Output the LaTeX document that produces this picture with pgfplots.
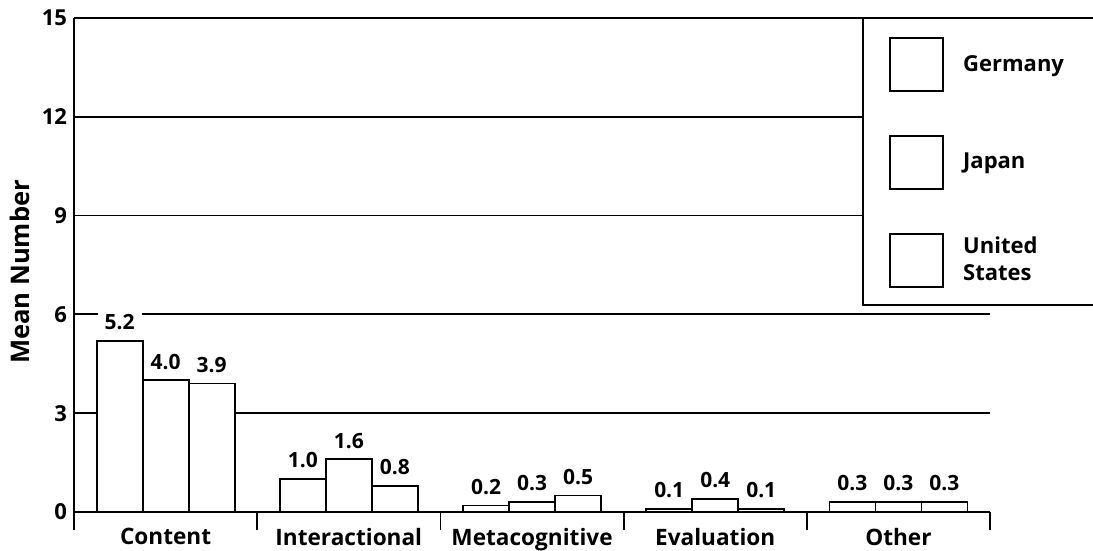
\documentclass[border=0pt]{standalone}
\usepackage{fontspec}
\setmainfont{Open Sans}
\usepackage{pgfplots}
\pgfplotsset{compat=1.18}
\begin{document}
\begin{tikzpicture}
\begin{axis}[
  name=ax,
  scale only axis, width=458pt, height=247pt,
  xmin=-0.5, xmax=4.5, ymin=0, ymax=15,
  clip=false,
  /pgf/number format/assume math mode=true,
  ytick={0,3,6,9,12,15},
  xtick={0,1,2,3,4},
  xticklabels={Content,Interactional,Metacognitive,Evaluation,Other},
  minor xtick={-0.5,0.5,1.5,2.5,3.5,4.5},
  major tick length=0pt, minor tick length=9pt, tick align=center,
  axis x line=bottom, axis y line=left,
  axis line style={-, line width=1pt, black},
  every tick/.style={black, line width=0.9pt},
  ymajorgrids, major grid style={black, line width=0.9pt},
  xticklabel style={font=\bfseries\fontsize{11.3}{14}\selectfont, yshift=-4.5pt},
  yticklabel style={font=\bfseries\fontsize{11}{13}\selectfont},
  ylabel={Mean Number},
  ylabel style={at={(rel axis cs:-0.059,0.486)}, anchor=center, font=\bfseries\fontsize{12.8}{16}\selectfont},
  ybar=0pt, bar width=23pt,
  nodes near coords={\pgfmathprintnumber[fixed,fixed zerofill,precision=1,assume math mode=true]{\pgfplotspointmeta}},
  every node near coord/.append style={font=\bfseries\fontsize{10.5}{13}\selectfont, fill=white, text=black, inner xsep=3.5pt, inner ysep=1.5pt, yshift=3.5pt},
  legend style={at={(rel axis cs:0.8897,0.9615)}, anchor=north west, draw=none, fill=none, inner sep=0pt,
    row sep=21.5pt, column sep=7.5pt, font=\bfseries\fontsize{11}{13.5}\selectfont, nodes={align=left}},
  legend cell align=left,
  legend image code/.code={\draw[black, fill=white, line width=0.9pt] (0pt,-13.25pt) rectangle (26.5pt,13.25pt);},
]
\addplot[draw=black, fill=white, line width=0.9pt] coordinates {(0,5.2) (1,1.0) (2,0.2) (3,0.1) (4,0.3)};
\addplot[draw=black, fill=white, line width=0.9pt] coordinates {(0,4.0) (1,1.6) (2,0.3) (3,0.4) (4,0.3)};
\addplot[draw=black, fill=white, line width=0.9pt] coordinates {(0,3.9) (1,0.8) (2,0.5) (3,0.1) (4,0.3)};
\legend{Germany, Japan, United\\States}
\draw[black, fill=white, line width=0.9pt] (rel axis cs:1.25,1) -- (rel axis cs:0.8614,1) -- (rel axis cs:0.8614,0.419) -- (rel axis cs:1.25,0.419);
\coordinate (bbsw) at (rel axis cs:-0.0808,-0.0789);
\coordinate (bbne) at (rel axis cs:1.1124,1.0364);
\end{axis}
\pgfresetboundingbox
\path[use as bounding box] (bbsw) rectangle (bbne);
\end{tikzpicture}
\end{document}
